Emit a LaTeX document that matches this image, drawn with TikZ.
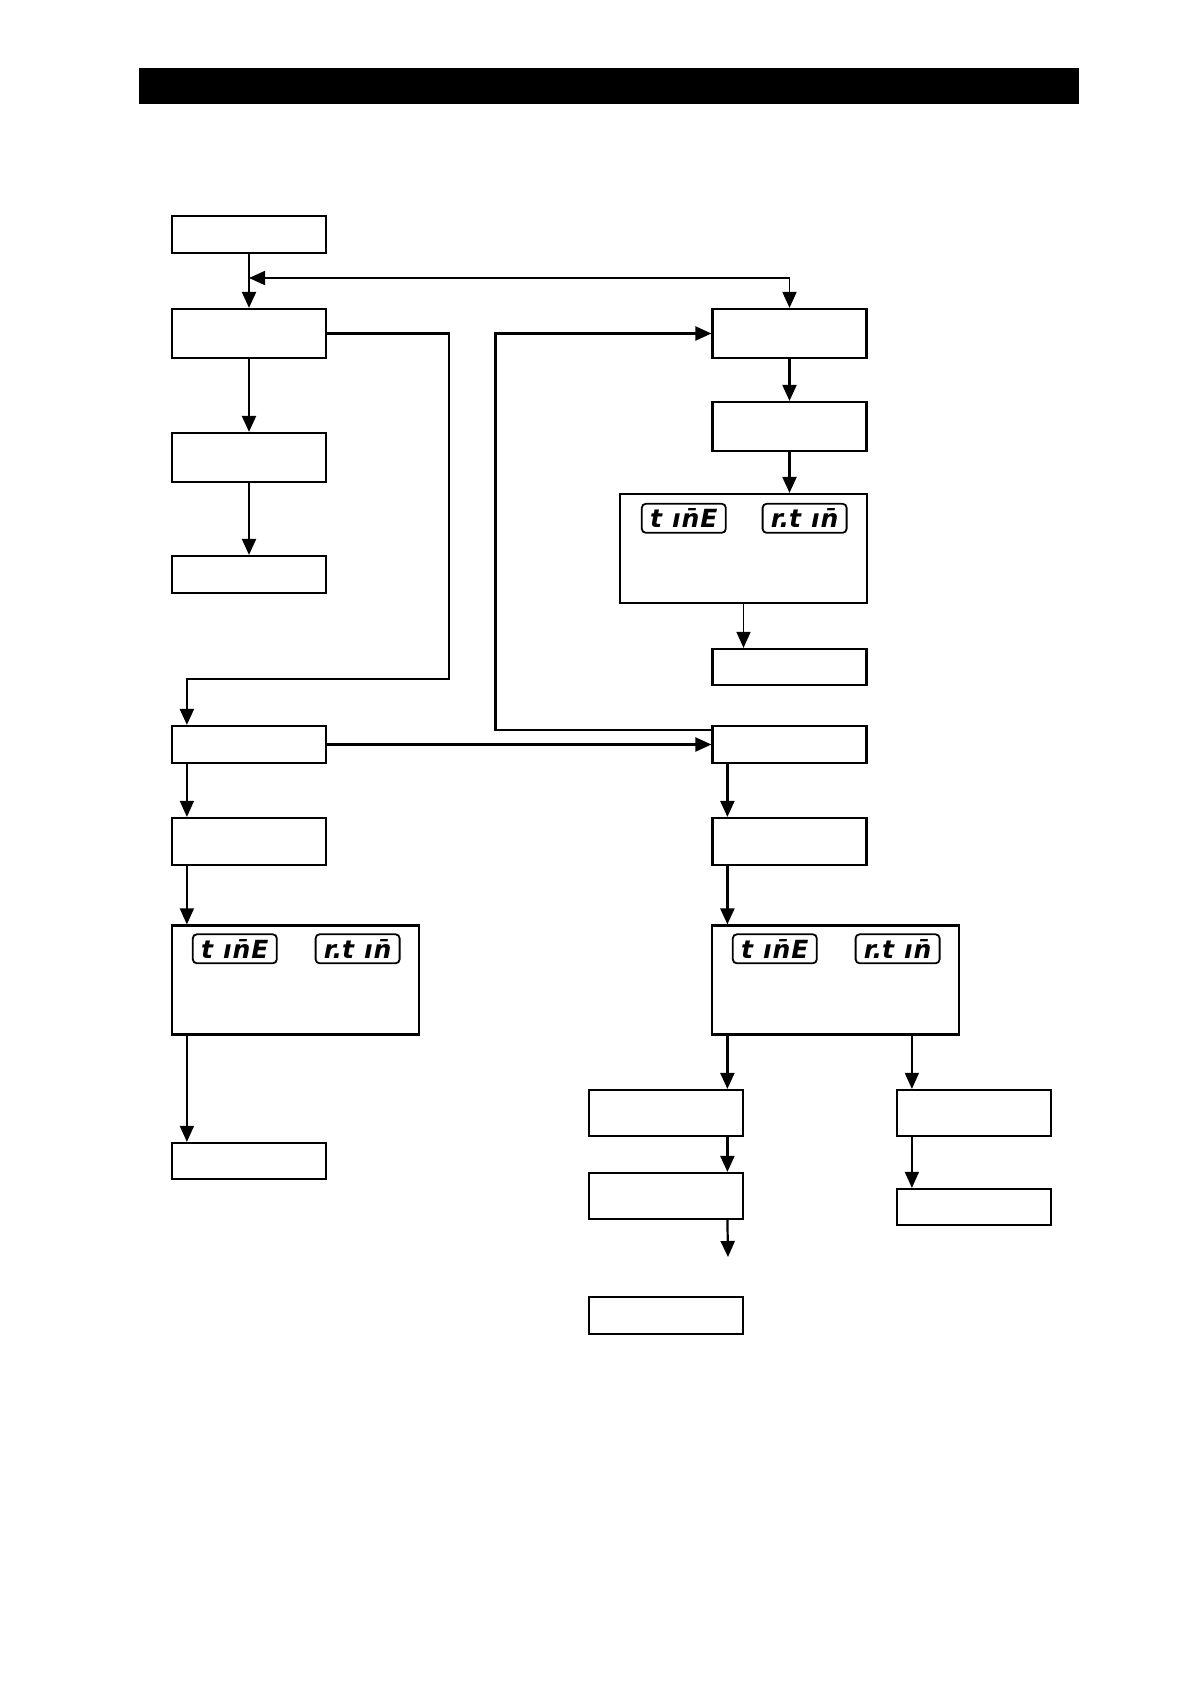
\documentclass[tikz,border=0pt]{standalone}
\usepackage{fontspec}
\newfontfamily\segfont{DejaVu Sans}
\usetikzlibrary{arrows.meta,positioning}

\begin{document}
\begin{tikzpicture}[x=0.5pt,y=-0.5pt,
  box/.style={draw,line width=1.1pt,minimum width=77pt,inner sep=0pt},
  panel/.style={draw,line width=1.1pt,minimum width=123.5pt,minimum height=54.5pt,inner sep=0pt},
  lcd/.style={draw,rounded corners=2pt,line width=0.9pt,minimum width=42pt,minimum height=14.5pt,inner sep=0pt,
    font=\segfont\bfseries\itshape\fontsize{12.5}{12.5}\selectfont},
  flow/.style={-{Triangle[length=8pt,width=7pt]},line width=1.1pt},
  thin/.style={-{Triangle[length=8pt,width=7pt]},line width=0.75pt},
  both/.style={{Triangle[length=8pt,width=7pt]}-{Triangle[length=8pt,width=7pt]},line width=0.9pt}]
\useasboundingbox (0,0) rectangle (1190,1684);
\fill (139,68) rectangle (1079,104);

% left column
\node[box,minimum height=18.5pt] (start) at (249,234.5) {};
\node[box,minimum height=24.5pt] (menu) at (249,333.5) {};
\node[box,minimum height=24.5pt] (menu2) at (249,457.5) {};
\node[box,minimum height=18.5pt] (end1) at (249,574.5) {};
\node[box,minimum height=18.5pt] (mode) at (249,744.5) {};
\node[box,minimum height=23.5pt] (set) at (249,841.5) {};
\node[panel] (disp1) at (295.5,980) {};
\node[box,minimum height=18pt] (end3) at (249,1161) {};

% right column
\node[box,minimum height=24.5pt] (run) at (789.5,333.5) {};
\node[box,minimum height=24.5pt] (run2) at (789.5,426.5) {};
\node[panel] (disp0) at (743.5,548.5) {};
\node[box,minimum height=18pt] (end2) at (789.5,667) {};
\node[box,minimum height=18.5pt] (mode2) at (789.5,744.5) {};
\node[box,minimum height=23.5pt] (set2) at (789.5,841.5) {};
\node[panel] (disp2) at (835.5,980) {};
\node[box,minimum height=23pt] (opa) at (666,1113) {};
\node[box,minimum height=23pt] (opb) at (666,1196) {};
\node[box,minimum height=18.5pt] (end4) at (666,1315.5) {};
\node[box,minimum height=23pt] (opc) at (974,1113) {};
\node[box,minimum height=18pt] (end5) at (974,1207) {};

% displays
\newcommand{\segtime}{t\kern5pt ı\kern0.5pt\={n}\kern0.5pt E}
\newcommand{\segrtime}{r.t\kern5pt ı\kern0.5pt\={n}}
\node[lcd,anchor=north west,below right=5pt and 11pt of disp0.north west] (t0) {\segtime};
\node[lcd,right=17.5pt of t0] (r0) {\segrtime};
\node[lcd,anchor=north west,below right=4.5pt and 10.5pt of disp1.north west] (t1) {\segtime};
\node[lcd,right=18.5pt of t1] (r1) {\segrtime};
\node[lcd,anchor=north west,below right=4.5pt and 10.5pt of disp2.north west] (t2) {\segtime};
\node[lcd,right=18.5pt of t2] (r2) {\segrtime};

\coordinate (join) at (249,278);
\coordinate (lx) at ([xshift=8pt]mode.south west);
\coordinate (rx) at ([xshift=8pt]mode2.south west);
\coordinate (sx) at ([xshift=8pt]opc.north west);
\coordinate (qend) at (728,1257);

\path[flow]
(start) edge (menu)
(menu) edge (menu2)
(menu2) edge (end1)
(run) edge (run2)
(mode) edge (mode2)
;
\draw[both] (join) -| (run.north);
\draw[flow] (menu.east) -| (449,679) -| ([xshift=8pt]mode.north west);
\draw[flow] ([yshift=-2.5pt]mode2.north west) -- ++(-216,0) |- (run.west);
\draw[flow] (run2.south) -- (run2.south |- disp0.north);
\draw[thin] (disp0.south) -- (disp0.south |- end2.north);
\draw[thin] (lx) -- (lx |- set.north);
\draw[thin] (lx |- set.south) -- (lx |- disp1.north);
\draw[thin] (lx |- disp1.south) -- (lx |- end3.north);
\draw[flow] (rx) -- (rx |- set2.north);
\draw[flow] (rx |- set2.south) -- (rx |- disp2.north);
\draw[flow] (rx |- disp2.south) -- (rx |- opa.north);
\draw[flow] (rx |- opa.south) -- (rx |- opb.north);
\draw[flow] (rx |- opb.south) -- (qend);
\draw[thin] (sx |- disp2.south) -- (sx);
\draw[thin] (sx |- opc.south) -- (sx |- end5.north);
\end{tikzpicture}
\end{document}
